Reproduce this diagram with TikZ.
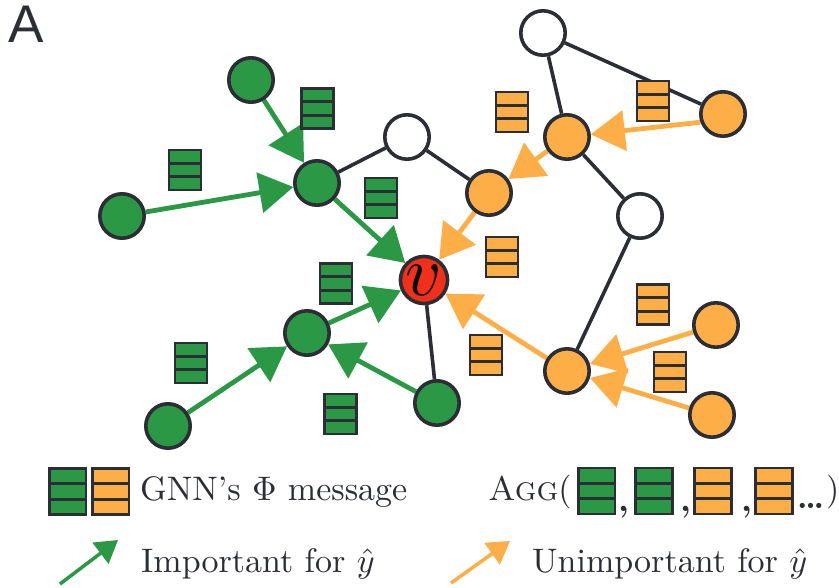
\documentclass[tikz,border=0pt]{standalone}
\usepackage{fontspec}
\newfontfamily\labelfont{Liberation Sans}
\usetikzlibrary{arrows.meta}
\definecolor{gr}{HTML}{2A9844}
\definecolor{orng}{HTML}{FDAE46}
\definecolor{rd}{HTML}{F2301A}
\definecolor{dk}{HTML}{2C2E35}
\newcommand{\lgtext}[1]{\scalebox{3.4}{#1}}
\pgfdeclarelayer{bg}
\pgfsetlayers{bg,main}
\tikzset{
  vtx/.style={circle, draw=dk, line width=3.6pt, minimum size=44.4pt, inner sep=0pt},
  gnode/.style={vtx, fill=gr},
  onode/.style={vtx, fill=orng},
  wnode/.style={vtx, fill=white},
  rnode/.style={vtx, fill=rd},
  plain/.style={draw=dk, line width=3.6pt},
  garrow/.style={draw=gr, fill=gr, line width=4.8pt, -{Triangle[length=34pt,width=40pt]}},
  oarrow/.style={draw=orng, fill=orng, line width=4.8pt, -{Triangle[length=34pt,width=40pt]}},
  lgarrow/.style={line width=3.5pt, -{Triangle[length=22pt,width=26pt]}},
  txt/.style={inner sep=0pt, anchor=base west, text=dk, font=\normalsize},
  pics/msgbox/.style={code={
    \filldraw[fill=#1, draw=dk, line width=2.8pt] (-16,-20) rectangle (16,20);
    \draw[dk, line width=2.8pt] (-16,-6.67) -- (16,-6.67) (-16,6.67) -- (16,6.67);
  }},
}
\begin{document}
\begin{tikzpicture}[x=1pt,y=-1pt]
\useasboundingbox (0,0) rectangle (839,588);
% label
\node[inner sep=0pt, anchor=base west, text=dk, font=\labelfont\fontsize{53}{60}\selectfont] (lab) at (8,43) {A};
% vertices
\node[gnode] (g1) at (251,80) {};
\node[gnode] (g2) at (317,183) {};
\node[gnode] (g3) at (122,216) {};
\node[wnode] (w1) at (407,137) {};
\node[rnode] (v) at (424,280) {\scalebox{7}{$v$}};
\node[gnode] (g4) at (307,333) {};
\node[gnode] (g5) at (168,426) {};
\node[gnode] (g6) at (437,403) {};
\node[onode] (o1) at (489,193) {};
\node[onode] (o2) at (567,137) {};
\node[wnode] (w2) at (543,33) {};
\node[onode] (o3) at (723,114) {};
\node[wnode] (w3) at (640,216) {};
\node[onode] (o4) at (567,371) {};
\node[onode] (o5) at (716,325) {};
\node[onode] (o6) at (712,415) {};
\begin{pgfonlayer}{bg}
\draw[plain] (g2) -- (w1);
\draw[plain] (w1) -- (o1);
\draw[plain] (o2) -- (w2);
\draw[plain] (w2) -- (o3);
\draw[plain] (o2) -- (w3);
\draw[plain] (w3) -- (o4);
\draw[plain] (v) -- (g6);
\draw[garrow] (g1) -- (g2);
\draw[garrow] (g3) -- (g2);
\draw[garrow] (g2) -- (v);
\draw[garrow] (g4) -- (v);
\draw[garrow] (g5) -- (g4);
\draw[garrow] (g6) -- (g4);
\draw[oarrow] (o1) -- (v);
\draw[oarrow] (o2) -- (o1);
\draw[oarrow] (o3.200) -- (o2);
\draw[oarrow] (o4) -- (v);
\draw[oarrow] (o5) -- (o4);
\draw[oarrow] (o6) -- (o4);
\end{pgfonlayer}
% messages
\pic at (317.5,108.5) {msgbox=gr};
\pic at (185,170) {msgbox=gr};
\pic at (381,198) {msgbox=gr};
\pic at (336,283.5) {msgbox=gr};
\pic at (191,363) {msgbox=gr};
\pic at (340.5,414) {msgbox=gr};
\pic at (512,112) {msgbox=orng};
\pic at (653,101) {msgbox=orng};
\pic at (502,257) {msgbox=orng};
\pic at (653,304.5) {msgbox=orng};
\pic at (486,355) {msgbox=orng};
\pic at (670,372) {msgbox=orng};
% legend row 1
\pic[scale=1.15] at (67.5,491.5) {msgbox=gr};
\pic[scale=1.15] at (110.5,491.5) {msgbox=orng};
\node[txt] (t1) at (140,500) {\lgtext{GNN’s $\Phi$ message}};
\node[txt] (t2) at (488,500) {\lgtext{\textsc{Agg}(}};
\pic[scale=1.15] at (596.5,491) {msgbox=gr};
\node[txt] (c1) at (618,511) {\lgtext{\textbf{,}}};
\pic[scale=1.15] at (654,491) {msgbox=gr};
\node[txt] (c2) at (680,511) {\lgtext{\textbf{,}}};
\pic[scale=1.15] at (713,491) {msgbox=orng};
\node[txt] (c3) at (741,511) {\lgtext{\textbf{,}}};
\pic[scale=1.15] at (774,491) {msgbox=orng};
\node[txt] (dots) at (797,508) {\scalebox{3.3}{\textbf{.\kern-0.7pt.\kern-0.7pt.}}};
\node[txt] (cp) at (826,500) {\lgtext{)}};
% legend row 2
\coordinate (ga) at (60,584);
\coordinate (gb) at (118,540);
\draw[lgarrow, draw=gr, fill=gr] (ga) -- (gb);
\node[txt] (t3) at (141,572) {\lgtext{Important for $\hat{y}$}};
\coordinate (oa) at (451,583);
\coordinate (ob) at (510,541);
\draw[lgarrow, draw=orng, fill=orng] (oa) -- (ob);
\node[txt] (t4) at (532,572) {\lgtext{Unimportant for $\hat{y}$}};
\end{tikzpicture}
\end{document}
